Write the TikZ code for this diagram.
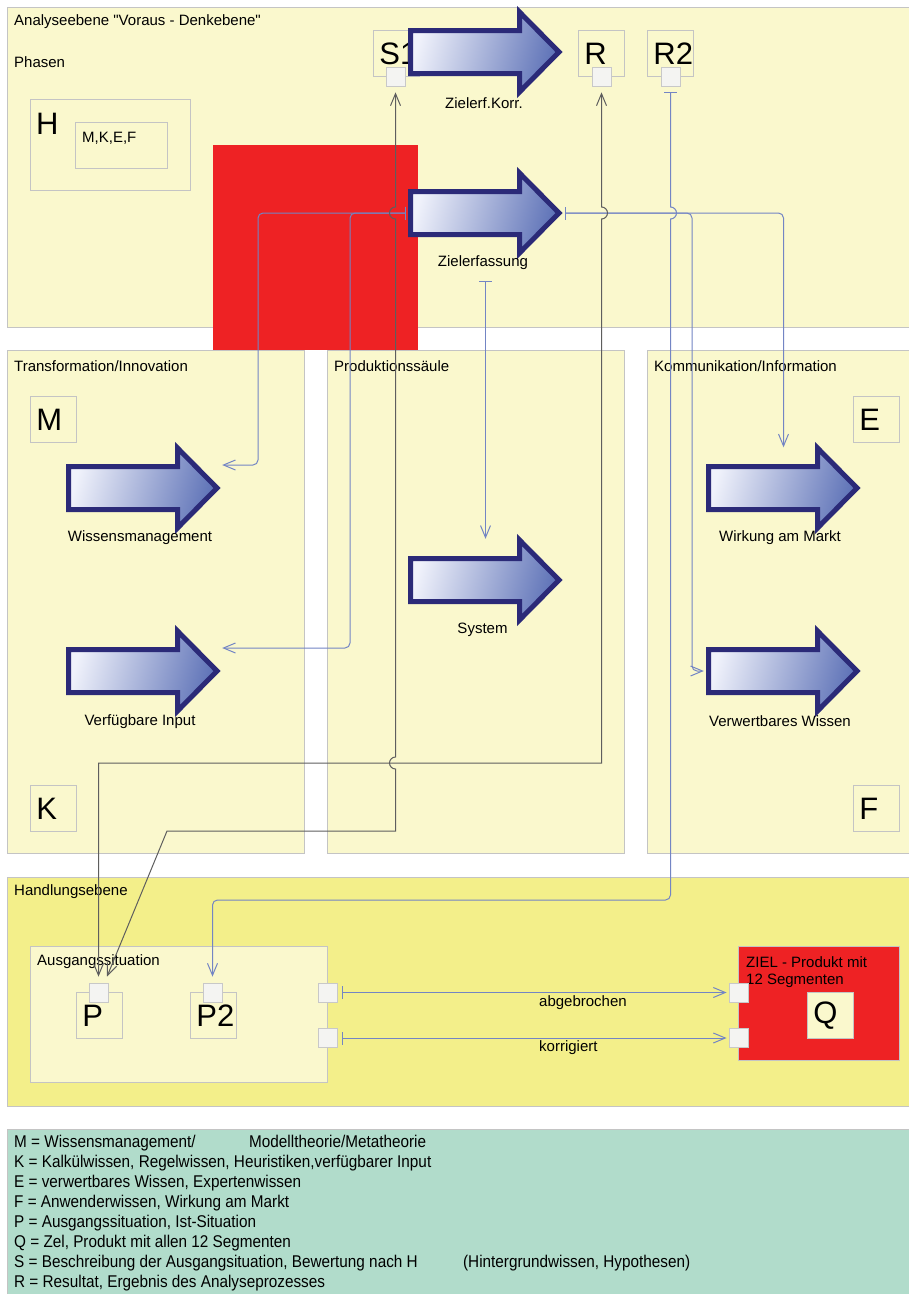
\documentclass[tikz,border=0pt]{standalone}
\usepackage{fontspec}
\setmainfont{Liberation Sans}
\newfontfamily\legendfont[FakeStretch=0.9]{Liberation Sans}
\usetikzlibrary{arrows.meta,calc}
\definecolor{panel}{HTML}{FAF8CD}
\definecolor{panelline}{HTML}{C4C4C4}
\definecolor{handpanel}{HTML}{F3EF8A}
\definecolor{legendbg}{HTML}{B1DCCB}
\definecolor{zielred}{HTML}{EE2224}
\definecolor{portfill}{HTML}{F4F4F2}
\definecolor{portline}{HTML}{C8C8C8}
\definecolor{arrowline}{HTML}{2B2A78}
\definecolor{arrowlight}{HTML}{F0F2FB}
\definecolor{arrowdark}{HTML}{6074B8}
\definecolor{connblue}{HTML}{7385C4}
\definecolor{conngrey}{HTML}{5E5E5E}
\tikzset{
  panelbox/.style={draw=panelline, fill=panel, line width=0.8pt, inner sep=0pt, anchor=north west},
  letterbox/.style={draw=panelline, fill=panel, line width=0.8pt, minimum width=46pt, minimum height=46pt,
    inner xsep=6pt, inner ysep=0pt, text width=34pt, align=left, anchor=north west,
    font=\fontsize{31}{36}\selectfont},
  port/.style={draw=portline, fill=portfill, line width=0.8pt, minimum size=19pt, inner sep=0pt},
  lbl/.style={font=\fontsize{15}{18}\selectfont, inner sep=0pt},
  bigarrowpath/.style={draw=arrowline, line width=5pt, line join=miter, left color=arrowlight,
    right color=arrowdark, shading angle=75},
  arrowanchor/.style={minimum width=155pt, minimum height=85pt, inner sep=0pt, draw=none},
  cblue/.style={draw=connblue, line width=1pt},
  cgrey/.style={draw=conngrey, line width=1pt},
  barto/.style={arrows={Bar[width=13pt]-Straight Barb[length=12pt,width=10pt]}},
  toto/.style={arrows={Straight Barb[length=12pt,width=10pt]-Straight Barb[length=12pt,width=10pt]}},
  legline/.style={font=\legendfont\fontsize{17}{20}\selectfont, inner sep=0pt, anchor=west},
}
\newcommand\BigArrow[3]{%
  \path[bigarrowpath] (#2+2.5,#3-21.5) -- (#2+111.5,#3-21.5) -- (#2+111.5,#3-40) -- (#2+151,#3)
     -- (#2+111.5,#3+40) -- (#2+111.5,#3+21.5) -- (#2+2.5,#3+21.5) -- cycle;
  \node[arrowanchor] (#1) at (#2+77.5,#3) {};
}
\begin{document}
\begin{tikzpicture}[x=1pt,y=-1pt]
\useasboundingbox (0,0) rectangle (909,1294);
\fill[white] (0,0) rectangle (909,1294);
% panels
\node[panelbox, minimum width=903pt, minimum height=320pt] (top) at (7,7) {};
\node[panelbox, minimum width=297pt, minimum height=503pt] (trans) at (7,350) {};
\node[panelbox, minimum width=297pt, minimum height=503pt] (prod) at (327,350) {};
\node[panelbox, minimum width=263pt, minimum height=503pt] (komm) at (647,350) {};
\node[panelbox, fill=handpanel, minimum width=903pt, minimum height=229pt] (hand) at (7,877) {};
\node[panelbox, fill=legendbg, minimum width=903pt, minimum height=170pt] (legend) at (7,1129) {};
% titles
\node[lbl, anchor=west] (ttop) at (14,22) {Analyseebene \textquotedbl Voraus - Denkebene\textquotedbl};
\node[lbl, anchor=west] (tphasen) at (14,62) {Phasen};
\node[lbl, anchor=west] (ttrans) at (14,366) {Transformation/Innovation};
\node[lbl, anchor=west] (tprod) at (334,366) {Produktionssäule};
\node[lbl, anchor=west] (tkomm) at (654,366) {Kommunikation/Information};
\node[lbl, anchor=west] (thand) at (14,892) {Handlungsebene};
% H box
\node[panelbox, minimum width=160pt, minimum height=91pt] (hbox) at (30,99) {};
\node[inner sep=0pt, anchor=west, font=\fontsize{31}{36}\selectfont] (hletter) at (36,124) {H};
\node[panelbox, minimum width=92pt, minimum height=46pt] (mkef) at (75,122) {};
\node[lbl, anchor=west] (mkeft) at (82,138) {M,K,E,F};
% red box
\node[fill=zielred, draw=none, inner sep=0pt, minimum width=205pt, minimum height=205pt, anchor=north west] (red) at (213,145) {};
% letter boxes
\node[letterbox] (S1) at (373,30) {S1};
\node[letterbox] (R) at (578,30) {R};
\node[letterbox] (R2) at (647,30) {R2};
\node[letterbox] (M) at (30,396) {M};
\node[letterbox] (E) at (853,396) {E};
\node[letterbox] (K) at (30,785) {K};
\node[letterbox] (F) at (853,785) {F};
% big arrows
\BigArrow{ZK}{408}{52}
\BigArrow{Zf}{408}{213}
\BigArrow{WM}{66}{488}
\BigArrow{VI}{66}{671}
\BigArrow{Sys}{408}{580}
\BigArrow{WaM}{706}{488}
\BigArrow{VW}{706}{671}
\node[lbl] (lZK) at (484,103) {Zielerf.Korr.};
\node[lbl] (lZf) at (483,263) {Zielerfassung};
\node[lbl] (lWM) at (140,538) {Wissensmanagement};
\node[lbl] (lVI) at (140,722) {Verfügbare Input};
\node[lbl] (lSys) at (482.5,630) {System};
\node[lbl] (lWaM) at (780,538) {Wirkung am Markt};
\node[lbl] (lVW) at (780,721) {Verwertbares Wissen};
% ports top
\node[port] (S1p) at (395.5,76.5) {};
\node[port] (Rp) at (601.5,76.5) {};
\node[port] (R2p) at (670.5,76.5) {};
% Handlungsebene contents
\node[panelbox, minimum width=297pt, minimum height=136pt] (ausg) at (30,946) {};
\node[lbl, anchor=west] (tausg) at (37,962) {Ausgangssituation};
\node[letterbox] (P) at (76,992) {P};
\node[letterbox] (P2) at (190,992) {P2};
\node[port] (Pp) at (98.5,992.5) {};
\node[port] (P2p) at (212.5,992.5) {};
\node[port] (A1) at (327.5,992.5) {};
\node[port] (A2) at (327.5,1038) {};
\node[fill=zielred, draw=panelline, line width=0.8pt, inner sep=0pt, minimum width=161pt, minimum height=114pt, anchor=north west] (ziel) at (738,946) {};
\node[lbl, anchor=west] (tziel1) at (746,962) {ZIEL - Produkt mit};
\node[lbl, anchor=west] (tziel2) at (746,981) {12 Segmenten};
\node[letterbox] (Q) at (807,992) {Q};
\node[port] (Z1) at (738.5,992.5) {};
\node[port] (Z2) at (738.5,1038) {};
% connectors from Zielerfassung
\draw[cblue, barto, rounded corners=5pt] ([xshift=-2pt]Zf.west) -- (258,213) -- (258,465) -- ([xshift=1pt,yshift=23pt]WM.east);
\draw[cblue, barto, rounded corners=5pt] ([xshift=-2pt]Zf.west) -- (350,213) -- (350,648) -- ([xshift=1pt,yshift=23pt]VI.east);
\draw[cblue, barto, rounded corners=5pt] ([xshift=2pt]Zf.east) -- (WaM.north |- Zf.east) -- ([yshift=-2pt]WaM.north);
\draw[cblue, barto, rounded corners=5pt] ([xshift=2pt]Zf.east) -- (692,213) -- (692,671) -- ([xshift=-2pt]VW.west);
\draw[cblue, barto] ([yshift=-25.5pt]Zf.south) -- ([yshift=-1.5pt]Sys.north);
% S1 <-> P
\draw[cgrey, toto] ([yshift=-6pt]S1p.south) -- (395.5,207) arc[start angle=90, end angle=270, radius=6pt]
  -- (395.5,757) arc[start angle=90, end angle=270, radius=6pt]
  -- (395.5,831) -- (167,831) -- ([xshift=8.5pt,yshift=6pt]Pp.north);
% R <-> P
\draw[cgrey, toto] ([yshift=-6pt]Rp.south) -- (601.5,207) arc[start angle=90, end angle=-90, radius=6pt]
  -- (601.5,763) -- (98.5,763) -- ([yshift=6pt]Pp.north);
% R2 -> P2
\draw[cblue, barto] ([yshift=-6pt]R2p.south) -- (670.5,207) arc[start angle=90, end angle=-90, radius=6pt]
  [rounded corners=5pt] -- (670.5,900) -- (212.5,900) -- ([yshift=6pt]P2p.north);
% Ausgangssituation -> ZIEL
\draw[cblue, barto] ([xshift=5pt]A1.east) -- ([xshift=-2pt]Z1.west);
\draw[cblue, barto] ([xshift=5pt]A2.east) -- ([xshift=-2pt]Z2.west);
\node[lbl, anchor=west] (labg) at (539,1003) {abgebrochen};
\node[lbl, anchor=west] (lkor) at (539,1048) {korrigiert};
% legend
\node[legline] (lg1) at (14,1143) {\makebox[235pt][l]{M = Wissensmanagement/}Modelltheorie/Metatheorie};
\node[legline] (lg2) at (14,1163) {K = Kalkülwissen, Regelwissen, Heuristiken,verfügbarer Input};
\node[legline] (lg3) at (14,1183) {E = verwertbares Wissen, Expertenwissen};
\node[legline] (lg4) at (14,1203) {F = Anwenderwissen, Wirkung am Markt};
\node[legline] (lg5) at (14,1223) {P = Ausgangssituation, Ist-Situation};
\node[legline] (lg6) at (14,1243) {Q = Zel, Produkt mit allen 12 Segmenten};
\node[legline] (lg7) at (14,1263) {\makebox[449pt][l]{S = Beschreibung der Ausgangsituation, Bewertung nach H}(Hintergrundwissen, Hypothesen)};
\node[legline] (lg8) at (14,1283) {R = Resultat, Ergebnis des Analyseprozesses};
\end{tikzpicture}
\end{document}
